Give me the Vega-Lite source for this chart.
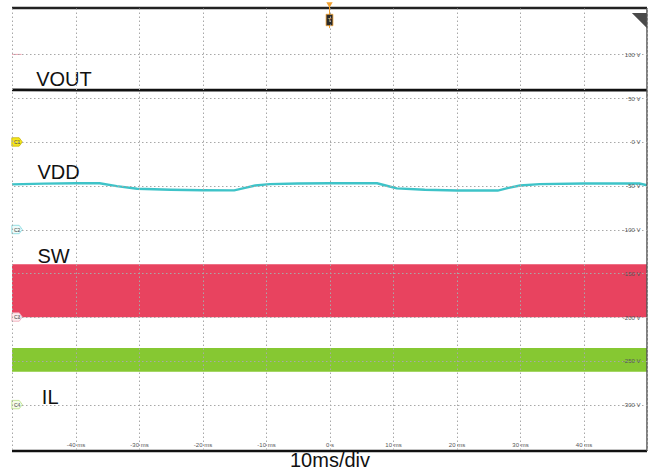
{
  "$schema": "https://vega.github.io/schema/vega-lite/v6.json",
  "width": 635,
  "height": 443,
  "autosize": "none",
  "padding": {"left": 12, "top": 8, "right": 3, "bottom": 20},
  "background": "white",
  "config": {"view": {"stroke": null}, "font": "Liberation Sans"},
  "datasets": {
    "vout": [
      {"t": -50, "v": 59.4}, {"t": -40, "v": 59.2}, {"t": -30, "v": 59.3}, {"t": -20, "v": 59.1},
      {"t": -10, "v": 59.3}, {"t": 0, "v": 59.2}, {"t": 10, "v": 59.3}, {"t": 20, "v": 59.1},
      {"t": 30, "v": 59.3}, {"t": 40, "v": 59.2}, {"t": 50, "v": 59.3}
    ],
    "vdd": [
      {"t": -50, "v": -48.4}, {"t": -45, "v": -47.6}, {"t": -40, "v": -47.2}, {"t": -36.2, "v": -47.2},
      {"t": -33.5, "v": -50.5}, {"t": -30.3, "v": -53.5}, {"t": -25, "v": -54.6}, {"t": -20, "v": -55.2},
      {"t": -15, "v": -55.3}, {"t": -13.3, "v": -52.5}, {"t": -11.7, "v": -49.8}, {"t": -9.4, "v": -48.2},
      {"t": -5, "v": -47.5}, {"t": 0, "v": -47.2}, {"t": 7.5, "v": -47.2}, {"t": 9, "v": -50},
      {"t": 10.6, "v": -53}, {"t": 15, "v": -54.6}, {"t": 20.1, "v": -55.4}, {"t": 26.5, "v": -55.5},
      {"t": 28.2, "v": -52.5}, {"t": 30, "v": -49.8}, {"t": 33.1, "v": -48.2}, {"t": 40, "v": -47.4},
      {"t": 48.8, "v": -47.5}, {"t": 50, "v": -49.5}
    ],
    "sw": [{"t": -50, "v": -139.7, "v2": -200.3}, {"t": 50, "v": -139.7, "v2": -200.3}],
    "il": [{"t": -50, "v": -235.3, "v2": -262.4}, {"t": 50, "v": -235.3, "v2": -262.4}],
    "names": [
      {"t": -46.2, "v": 63.6, "label": "VOUT"},
      {"t": -46.0, "v": -42.3, "label": "VDD"},
      {"t": -46.0, "v": -137.9, "label": "SW"},
      {"t": -45.3, "v": -299.3, "label": "IL"}
    ],
    "hframe": [
      {"t": -50, "t2": 50, "v": 153, "c": "#222222", "w": 2.5},
      {"t": -50, "t2": 50, "v": -353, "c": "#111111", "w": 2.5},
      {"t": -50, "t2": -48.5, "v": 100, "c": "#f0a0b0", "w": 1}
    ],
    "vframe": [{"t": 50, "v": -353, "v2": 153}],
    "trigLine": [{"t": 0, "v": 157, "v2": 130}],
    "badges": [
      {"t": -49.2, "v": 0, "id": "C1", "fill": "#f5e61e", "stroke": "#c8b400"},
      {"t": -49.2, "v": -100, "id": "C2", "fill": "#eefbfb", "stroke": "#7fd8dc"},
      {"t": -49.2, "v": -200, "id": "C3", "fill": "#fdecef", "stroke": "#f0a8b8"},
      {"t": -49.2, "v": -300, "id": "C4", "fill": "#f5fbe8", "stroke": "#b8e080"}
    ],
    "trig": [{"t": 0, "v": 139.3, "id": "T"}],
    "trigArrow": [{"t": 0, "v": 156.5}],
    "corner": [{"t": 48.8, "v": 138.7}]
  },
  "encoding": {
    "x": {
      "field": "t", "type": "quantitative",
      "scale": {"domain": [-50, 50], "nice": false, "zero": false},
      "axis": {
        "orient": "bottom", "values": [-50, -40, -30, -20, -10, 0, 10, 20, 30, 40, 50],
        "grid": true, "gridColor": "#a8a8a8", "gridDash": [1.5, 2.5], "gridWidth": 1,
        "domain": false, "ticks": false, "zindex": 1,
        "labelFontSize": 6, "labelColor": "#555555", "labelPadding": -7, "labelBaseline": "middle",
        "labelFlush": false, "labelOverlap": false,
        "labelExpr": "datum.value==-50||datum.value==50?'':(datum.value==0?'0 s':datum.value+' ms')",
        "title": "10ms/div", "titleFontSize": 20, "titleFontWeight": "normal", "titleColor": "#111111",
        "titleY": 15.5, "titleBaseline": "alphabetic"
      }
    },
    "y": {
      "field": "v", "type": "quantitative",
      "scale": {"domain": [-353, 153], "nice": false, "zero": false},
      "axis": {
        "orient": "right", "values": [-300, -250, -200, -150, -100, -50, 0, 50, 100],
        "grid": true, "gridColor": "#a8a8a8", "gridDash": [1.5, 2.5], "gridWidth": 1,
        "domain": false, "ticks": false, "zindex": 1,
        "labelFontSize": 6, "labelColor": "#555555", "labelPadding": -7, "labelAlign": "right",
        "labelBaseline": "middle", "labelOverlap": false, "labelFlush": false,
        "labelExpr": "datum.value + ' V'", "title": null
      }
    }
  },
  "layer": [
    {"data": {"name": "sw"}, "mark": {"type": "area", "color": "#e8435f", "opacity": 1},
     "encoding": {"y2": {"field": "v2"}}},
    {"data": {"name": "il"}, "mark": {"type": "area", "color": "#86c832", "opacity": 1},
     "encoding": {"y2": {"field": "v2"}}},
    {"data": {"name": "vout"}, "mark": {"type": "line", "color": "#111111", "strokeWidth": 2.8},
     "encoding": {}},
    {"data": {"name": "vdd"}, "mark": {"type": "line", "color": "#3ec3c8", "strokeWidth": 2.4},
     "encoding": {}},
    {"data": {"name": "hframe"}, "mark": {"type": "rule"},
     "encoding": {"x2": {"field": "t2"}, "color": {"field": "c", "type": "nominal", "scale": null},
                  "strokeWidth": {"field": "w", "type": "quantitative", "scale": null}}},
    {"data": {"name": "vframe"}, "mark": {"type": "rule", "color": "#555555", "strokeWidth": 1.5},
     "encoding": {"y2": {"field": "v2"}}},
    {"data": {"name": "trigLine"}, "mark": {"type": "rule", "color": "#f0a030", "strokeWidth": 1},
     "encoding": {"y2": {"field": "v2"}}},
    {"data": {"name": "names"},
     "mark": {"type": "text", "align": "left", "baseline": "alphabetic", "fontSize": 20, "font": "Liberation Sans", "color": "#111111"},
     "encoding": {"text": {"field": "label"}}},
    {"data": {"name": "badges"},
     "mark": {"type": "point", "filled": true, "shape": "M-1,-0.8L0.4,-0.8L1,0L0.4,0.8L-1,0.8Z", "size": 110, "strokeWidth": 0.8, "opacity": 1},
     "encoding": {"fill": {"field": "fill", "type": "nominal", "scale": null},
                  "stroke": {"field": "stroke", "type": "nominal", "scale": null}}},
    {"data": {"name": "badges"},
     "mark": {"type": "text", "fontSize": 5, "color": "#444444", "align": "center", "baseline": "middle"},
     "encoding": {"text": {"field": "id"}}},
    {"data": {"name": "trigArrow"},
     "mark": {"type": "point", "shape": "triangle-down", "filled": true, "color": "#f0a030", "size": 40, "opacity": 1},
     "encoding": {}},
    {"data": {"name": "trig"},
     "mark": {"type": "point", "shape": "M-0.6,-1H0.6V1H-0.6Z", "filled": true, "fill": "#2a2a2a", "stroke": "#f0a030", "strokeWidth": 0.8, "size": 130, "opacity": 1},
     "encoding": {}},
    {"data": {"name": "trig"},
     "mark": {"type": "text", "fontSize": 6, "color": "#f0c080", "align": "center", "baseline": "middle"},
     "encoding": {"text": {"field": "id"}}},
    {"data": {"name": "corner"},
     "mark": {"type": "point", "shape": "M-1,-1L1,-1L1,1Z", "filled": true, "color": "#4a4a4a", "size": 225, "opacity": 1},
     "encoding": {}}
  ]
}
